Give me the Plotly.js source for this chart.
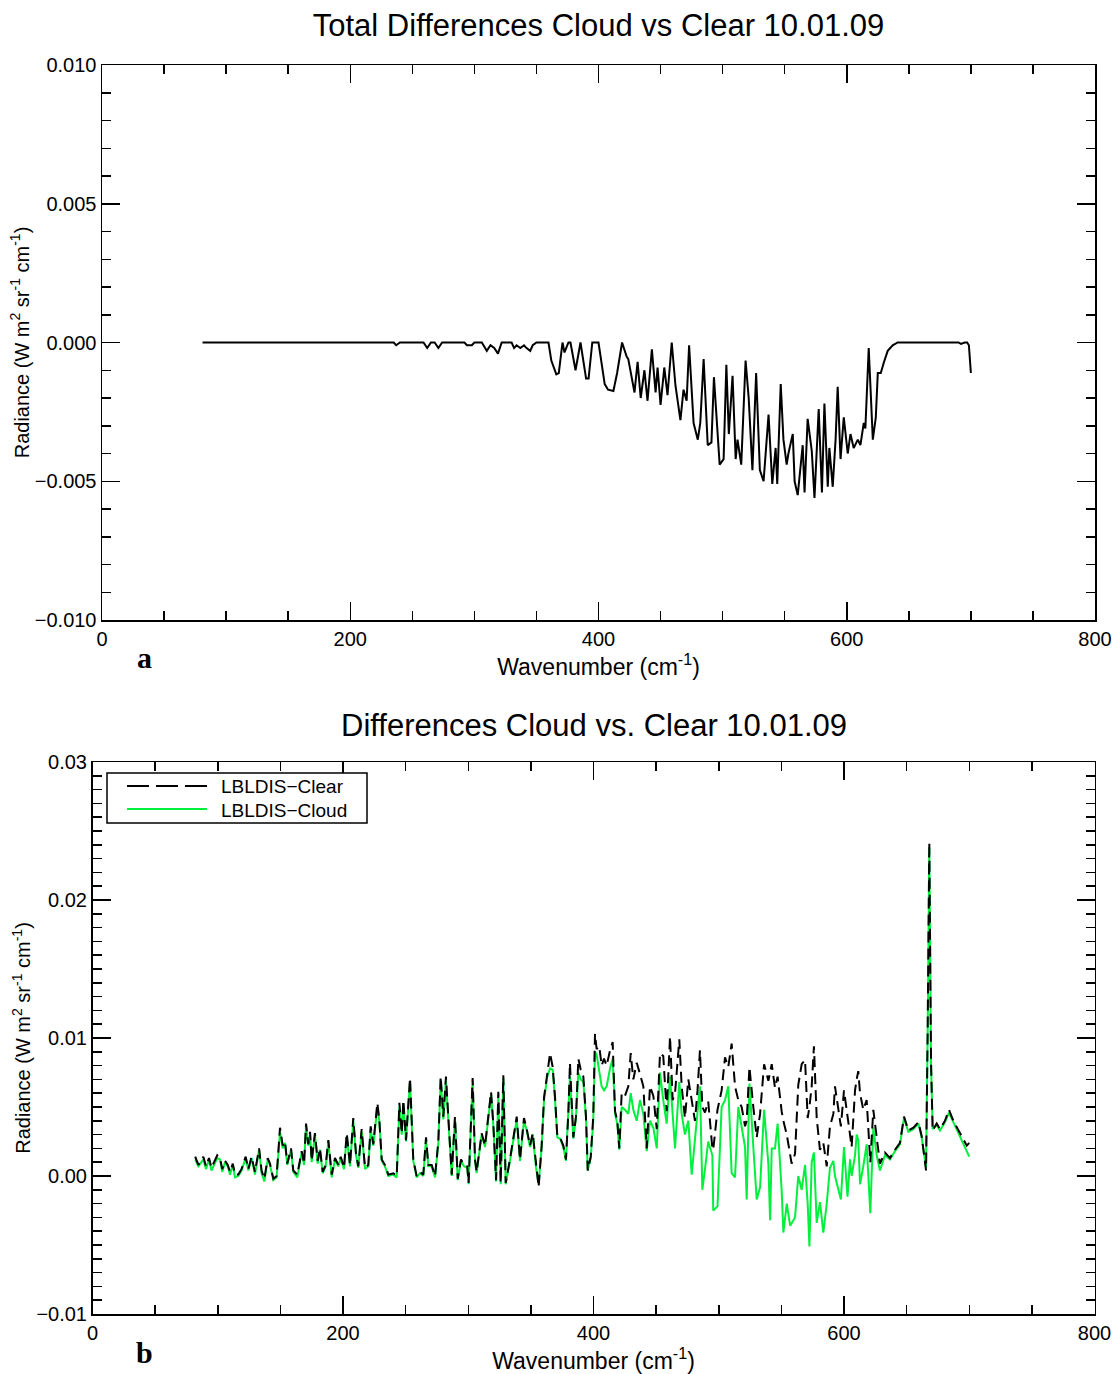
<!DOCTYPE html>
<html><head><meta charset="utf-8">
<script src="https://cdn.plot.ly/plotly-3.0.1.min.js"></script>
<style>body{margin:0;padding:0;background:#fff}#chart{width:1115px;height:1374px}</style>
</head><body><div id="chart"></div>
<script>
// ---- Panel a: total difference (cloud - clear) ----
const wnTop = [81, 235, 237, 240, 259, 262, 265, 268, 271, 274, 292, 294, 298, 300, 306, 310, 313, 316, 319, 322,
  330, 332, 334, 337, 340, 342, 345, 347, 350, 359.7, 362, 366, 368, 371, 372.6, 375.8, 377.4, 381.5, 385.5,
  390, 392, 395, 400, 405, 407.7, 412, 415, 419, 422.6, 424, 429, 431.5, 434, 437, 439.5, 443, 446, 447.6,
  450, 453, 455.6, 459, 462, 466, 468.5, 471, 473, 476.6, 480, 482, 484.7, 488, 491, 493, 497.6, 500.8, 503,
  505, 508, 510.5, 512, 515, 518.5, 521, 524, 527, 530, 533, 537, 540, 542.7, 544, 546.8, 549, 551.6, 553,
  556.5, 558, 560.5, 564.5, 566, 568.5, 571.8, 574, 577.4, 580, 582, 584.7, 586, 588.7, 591, 592.7, 595,
  597.6, 600.8, 603, 605.6, 608.9, 611, 613.7, 615, 617.7, 621, 623.4, 625, 627.4, 630, 633, 637, 641,
  690, 692, 695, 697, 698.4, 700];
const diffTop = [0, 0, -0.0001, 0, 0, -0.0002, 0, 0, -0.0002, 0, 0, -0.0001, -0.0001, 0, 0, -0.0003, -0.0001, -0.0002, -0.0004, 0,
  0, -0.0002, -0.0001, -0.0002, -0.0001, -0.0002, -0.0003, -0.0001, 0, 0, -0.00065, -0.00115, -0.0011, 0, -0.00036, 0, 0, -0.001, 0,
  -0.0013, -0.0013, 0, 0, -0.0015, -0.0017, -0.00175, -0.0011, 0, -0.0005, -0.0006, -0.0018, -0.0007, -0.002, -0.001, -0.0021, -0.00025, -0.0018, -0.0009,
  -0.00225, -0.0009, -0.0019, 0, -0.00155, -0.0028, -0.0017, -0.0021, -0.0001, -0.0029, -0.0035, -0.0029, -0.0006, -0.0037, -0.0036, -0.00125, -0.0044, -0.0042, -0.0008,
  -0.0033, -0.0012, -0.0042, -0.0035, -0.0044, -0.00065, -0.002, -0.0046, -0.0011, -0.0046, -0.005, -0.0026, -0.0051, -0.0038, -0.0051, -0.0015, -0.0035, -0.0044, -0.004,
  -0.0033, -0.005, -0.0055, -0.0037, -0.0054, -0.00275, -0.0039, -0.0056, -0.0024, -0.0054, -0.0022, -0.0052, -0.0038, -0.0052, -0.0035, -0.0016, -0.0042,
  -0.0027, -0.004, -0.0033, -0.0038, -0.0035, -0.0037, -0.0029, -0.0031, -0.0002, -0.0035, -0.0027, -0.0011, -0.0011, -0.0007, -0.0003, -0.0001, 0,
  0, -0.00005, 0, 0, -0.0001, -0.0011];

// ---- Panel b: clear and cloud radiances ----
const wnBot = [82, 84.5, 88.5, 90.6, 93, 95, 99.6, 101.8, 103.6, 105.8, 108, 109.8, 112, 113.8, 116.4, 119, 122.3, 124.4, 127, 129.7,
  133, 135, 137.2, 139.9, 141.7, 144.4, 147, 149.7, 151.9, 153.7, 155.5, 158.5, 160.3, 163.5, 167, 168.9, 170.5, 172.3, 173.7, 175,
  177.6, 179.8, 181.6, 183.8, 186.2, 188.3, 191, 193.6, 196.3, 198.2, 200.8, 203, 205.6, 208.2, 210.4, 212.2, 214.9, 217.6, 220.2, 222.1,
  224.2, 227.4, 229, 230.9, 233.5, 236.2, 240.2, 242.9, 245, 246.9, 248.2, 250.3, 253.5, 256.1, 258.8, 261.5, 264.1, 266.3, 268.1, 270.8,
  273.5, 276.1, 278, 280.1, 282.2, 284.1, 286.8, 289.4, 291.6, 294.2, 296.6, 299.2, 300.3, 303.5, 305.4, 306.7, 310.7, 313.4, 316, 318.2,
  320, 322.2, 324, 325.9, 328, 329.9, 333.3, 336, 338.7, 341.3, 344.5, 346.7, 349.3, 351.5, 354.1, 356.2, 358.6, 360.5, 363.1, 365.3,
  367.4, 369.3, 371.1, 373.3, 375.9, 378, 379.9, 381.2, 383.9, 386, 387.9, 389.8, 391.9, 394, 395.4, 397.8, 399.8, 401.2, 402.5, 404.6,
  406.5, 408.4, 410.5, 413.2, 415.3, 417.2, 419, 420.6, 422.5, 425.1, 427.8, 429.7, 431.8, 434.5, 437.1, 439.8, 442.5, 445.1, 447.8, 450.5,
  453.1, 455.7, 458.4, 461.1, 463.2, 465.1, 468.5, 470.4, 473, 475.7, 478.4, 481, 482.9, 485, 486.9, 489, 491.6, 494.9, 495.6, 499,
  502.3, 505, 507.6, 510.3, 513, 515.6, 518.3, 521, 522.3, 524.5, 527.6, 530.3, 533, 536.2, 539.6, 541, 542.3, 544.9, 547, 550.2,
  551.6, 554.3, 557, 558.2, 560.9, 563.5, 566.2, 568.9, 571, 572.4, 574.2, 576, 578.2, 580.8, 583.5, 586.2, 588.8, 591.5, 592.8, 595,
  597.5, 600, 602.8, 604.8, 606.1, 608.8, 610.1, 611.4, 612.8, 615.4, 618.1, 621, 623.4, 626.1, 628.7, 632.7, 636.7, 640.7, 644.7, 647.9,
  651.4, 655.4, 659.4, 662, 665.5, 666.8, 668.1, 669.5, 670.8, 674, 676.6, 680.6, 683.8, 687.3, 691.3, 695.3, 698, 700];
const clearBot = [0.0014, 0.0008, 0.0014, 0.0007, 0.0013, 0.0006, 0.0015, 0.0013, 0.0005, 0.0011, 0.0008, 0.0003, 0.0009, 0.0001, 0.0001, 0.0005, 0.0014, 0.0005, 0.0014, 0.0003,
  0.0020, 0.0004, -0.0002, 0.0013, 0.0009, -0.0002, 0.0000, 0.0035, 0.0022, 0.0025, 0.0009, 0.0020, 0.0004, 0.0001, 0.0018, 0.0009, 0.0038, 0.0023, 0.0032, 0.0011,
  0.0031, 0.0011, 0.0020, 0.0003, 0.0008, 0.0026, 0.0001, 0.0013, 0.0008, 0.0014, 0.0006, 0.0031, 0.0008, 0.0042, 0.0016, 0.0007, 0.0034, 0.0006, 0.0008, 0.0036,
  0.0023, 0.0053, 0.0041, 0.0012, 0.0008, 0.0001, 0.0002, 0.0000, 0.0053, 0.0031, 0.0055, 0.0026, 0.0071, 0.0012, 0.0000, 0.0003, 0.0001, 0.0028, 0.0008, 0.0008,
  0.0000, 0.0025, 0.0072, 0.0043, 0.0072, 0.0043, 0.0001, 0.0043, -0.0002, 0.0012, 0.0008, 0.0007, -0.0005, 0.0071, 0.0012, 0.0003, 0.0031, 0.0022, 0.0045, 0.0061,
  0.0038, -0.0003, 0.0061, -0.0005, 0.0073, -0.0005, 0.0012, 0.0026, 0.0043, 0.0012, 0.0042, 0.0034, 0.0022, 0.0031, 0.0007, -0.0008, 0.0022, 0.0057, 0.0074, 0.0089,
  0.0079, 0.0057, 0.0029, 0.0028, 0.0022, 0.0012, 0.0045, 0.0082, 0.0028, 0.0043, 0.0085, 0.0077, 0.0072, 0.0043, 0.0004, 0.0014, 0.0043, 0.0103, 0.0092, 0.0094,
  0.0080, 0.0085, 0.0080, 0.0091, 0.0097, 0.0047, 0.0040, 0.0020, 0.0060, 0.0058, 0.0065, 0.0089, 0.0070, 0.0082, 0.0074, 0.0065, 0.0020, 0.0065, 0.0058, 0.0034,
  0.0089, 0.0087, 0.0047, 0.0101, 0.0055, 0.0060, 0.0099, 0.0065, 0.0042, 0.0070, 0.0055, 0.0040, 0.0060, 0.0091, 0.0050, 0.0046, 0.0054, 0.0020, 0.0019, 0.0048,
  0.0062, 0.0086, 0.0079, 0.0096, 0.0065, 0.0055, 0.0050, 0.0036, 0.0040, 0.0079, 0.0050, 0.0028, 0.0045, 0.0081, 0.0069, 0.0075, 0.0081, 0.0064, 0.0072, 0.0047,
  0.0040, 0.0030, 0.0015, 0.0009, 0.0016, 0.0066, 0.0081, 0.0084, 0.0042, 0.0050, 0.0065, 0.0094, 0.0042, 0.0019, 0.0024, 0.0007, 0.0036, 0.0045, 0.0065, 0.0050,
  0.0036, 0.0062, 0.0045, 0.0030, 0.0021, 0.0062, 0.0070, 0.0076, 0.0060, 0.0048, 0.0055, 0.0010, 0.0048, 0.0030, 0.0009, 0.0017, 0.0013, 0.0019, 0.0024, 0.0043,
  0.0033, 0.0035, 0.0039, 0.0029, 0.0004, 0.0106, 0.0242, 0.0082, 0.0033, 0.0038, 0.0034, 0.0040, 0.0048, 0.0040, 0.0033, 0.0026, 0.0022, 0.0024];
const cloudBot = [0.0012, 0.0007, 0.0012, 0.0005, 0.0012, 0.0004, 0.0013, 0.0012, 0.0003, 0.0010, 0.0007, 0.0001, 0.0008, -0.0001, 0.0000, 0.0004, 0.0013, 0.0004, 0.0013, 0.0001,
  0.0019, 0.0002, -0.0004, 0.0012, 0.0008, -0.0003, -0.0001, 0.0032, 0.0020, 0.0024, 0.0008, 0.0019, 0.0003, -0.0001, 0.0017, 0.0008, 0.0036, 0.0022, 0.0030, 0.0010,
  0.0030, 0.0009, 0.0019, 0.0002, 0.0007, 0.0025, -0.0001, 0.0012, 0.0007, 0.0013, 0.0005, 0.0029, 0.0007, 0.0040, 0.0015, 0.0006, 0.0032, 0.0005, 0.0007, 0.0034,
  0.0022, 0.0050, 0.0040, 0.0011, 0.0007, 0.0000, 0.0001, -0.0001, 0.0050, 0.0030, 0.0052, 0.0025, 0.0068, 0.0011, -0.0001, 0.0002, 0.0000, 0.0027, 0.0007, 0.0007,
  -0.0001, 0.0024, 0.0070, 0.0041, 0.0069, 0.0041, 0.0000, 0.0041, -0.0003, 0.0011, 0.0007, 0.0006, -0.0006, 0.0069, 0.0011, 0.0002, 0.0030, 0.0021, 0.0043, 0.0059,
  0.0037, -0.0004, 0.0059, -0.0006, 0.0071, -0.0006, 0.0011, 0.0025, 0.0041, 0.0011, 0.0040, 0.0033, 0.0021, 0.0030, 0.0006, -0.0006, 0.0021, 0.0055, 0.0072, 0.0078,
  0.0077, 0.0055, 0.0028, 0.0027, 0.0021, 0.0011, 0.0044, 0.0072, 0.0027, 0.0042, 0.0075, 0.0070, 0.0068, 0.0042, 0.0004, 0.0013, 0.0040, 0.0090, 0.0088, 0.0075,
  0.0065, 0.0062, 0.0065, 0.0078, 0.0085, 0.0045, 0.0038, 0.0019, 0.0050, 0.0048, 0.0045, 0.0060, 0.0048, 0.0040, 0.0055, 0.0045, 0.0018, 0.0040, 0.0035, 0.0020,
  0.0075, 0.0055, 0.0038, 0.0072, 0.0040, 0.0020, 0.0068, 0.0045, 0.0030, 0.0040, 0.0001, 0.0030, 0.0045, 0.0065, -0.0010, 0.0005, 0.0025, 0.0015, -0.0025, -0.0022,
  0.0050, 0.0055, 0.0065, 0.0002, -0.0001, 0.0050, 0.0036, 0.0021, -0.0017, 0.0067, 0.0021, -0.0017, -0.0008, 0.0048, 0.0009, -0.0032, 0.0020, 0.0020, 0.0038, -0.0010,
  -0.0041, -0.0020, -0.0036, -0.0034, -0.0030, 0.0000, -0.0010, 0.0008, -0.0020, -0.0051, 0.0010, 0.0017, -0.0034, -0.0019, -0.0041, -0.0020, 0.0006, 0.0011, 0.0000, -0.0008,
  -0.0017, 0.0021, -0.0015, 0.0012, 0.0000, 0.0015, 0.0030, 0.0026, -0.0006, 0.0007, 0.0023, -0.0027, 0.0035, 0.0015, 0.0004, 0.0015, 0.0012, 0.0018, 0.0023, 0.0042,
  0.0032, 0.0034, 0.0038, 0.0028, 0.0006, 0.0104, 0.0238, 0.0080, 0.0034, 0.0037, 0.0033, 0.0039, 0.0046, 0.0039, 0.0031, 0.0024, 0.0018, 0.0014];

const xTicks = [0, 200, 400, 600, 800];
const legendNames = ['LBLDIS\u2212Clear', 'LBLDIS\u2212Cloud'];

const FONT = 'Liberation Sans, Arial, Helvetica, sans-serif';
const GREEN = 'rgb(0,240,60)';
const CLEAR_DASH = '11px,6px';

const traces = [
  {x: wnTop, y: diffTop, xaxis: 'x', yaxis: 'y', type: 'scatter', mode: 'lines',
   line: {color: 'black', width: 2}, showlegend: false, name: 'Total difference'},
  {x: wnBot, y: cloudBot, xaxis: 'x2', yaxis: 'y2', type: 'scatter', mode: 'lines',
   line: {color: GREEN, width: 2}, name: legendNames[1], showlegend: false},
  {x: wnBot, y: clearBot, xaxis: 'x2', yaxis: 'y2', type: 'scatter', mode: 'lines',
   line: {color: 'black', width: 2, dash: CLEAR_DASH}, name: legendNames[0], showlegend: false}
];

function xAxis(domain, anchor) {
  return {
    domain: domain, anchor: anchor, range: [0, 800], tickvals: xTicks, ticktext: xTicks.map(String),
    ticks: 'inside', ticklen: 18, tickwidth: 1.5, tickcolor: 'black', mirror: 'allticks',
    showline: true, linecolor: 'black', linewidth: 1.5, showgrid: false, zeroline: false,
    minor: {dtick: 50, tick0: 0, ticks: 'inside', ticklen: 9, tickwidth: 1.5, tickcolor: 'black', showgrid: false},
    tickfont: {family: FONT, size: 20, color: 'black'},
    title: {text: 'Wavenumber (cm<sup>-1</sup>)', font: {family: FONT, size: 23, color: 'black'}, standoff: 10}
  };
}
function yAxis(domain, anchor, range, dtick, minorDt, fmt, standoff) {
  return {
    domain: domain, anchor: anchor, range: range, dtick: dtick, tick0: 0, tickformat: fmt,
    ticks: 'inside', ticklen: 18, tickwidth: 1.5, tickcolor: 'black', mirror: 'allticks',
    showline: true, linecolor: 'black', linewidth: 1.5, showgrid: false, zeroline: false,
    minor: {dtick: minorDt, tick0: 0, ticks: 'inside', ticklen: 9, tickwidth: 1.5, tickcolor: 'black', showgrid: false},
    tickfont: {family: FONT, size: 20, color: 'black'},
    title: {text: 'Radiance (W m<sup>2</sup> sr<sup>-1</sup> cm<sup>-1</sup>)', font: {family: FONT, size: 20, color: 'black'}, standoff: standoff}
  };
}

// legend box (panel b), placed in paper coordinates
const PX = v => v / 1115, PY = v => 1 - v / 1374;
const shapes = [
  {type: 'rect', xref: 'paper', yref: 'paper', x0: PX(107), x1: PX(367), y0: PY(823), y1: PY(773),
   line: {color: 'black', width: 1.5}, fillcolor: 'white', layer: 'above'},
  {type: 'line', xref: 'paper', yref: 'paper', x0: PX(127), x1: PX(207), y0: PY(786), y1: PY(786),
   line: {color: 'black', width: 2, dash: '22px,7px'}, layer: 'above'},
  {type: 'line', xref: 'paper', yref: 'paper', x0: PX(127), x1: PX(207), y0: PY(809), y1: PY(809),
   line: {color: GREEN, width: 2}, layer: 'above'}
];

const layout = {
  width: 1115, height: 1374,
  margin: {l: 0, r: 0, t: 0, b: 0},
  paper_bgcolor: 'white', plot_bgcolor: 'white',
  font: {family: FONT, color: 'black'},
  showlegend: false,
  title: {text: 'Total Differences Cloud vs Clear 10.01.09', x: 0.5368, xanchor: 'center',
          y: 1 - 25 / 1374, yanchor: 'middle', font: {family: FONT, size: 31, color: 'black'}},
  xaxis: xAxis([PX(102), PX(1095)], 'y'),
  yaxis: yAxis([PY(620), PY(65)], 'x', [-0.01, 0.01], 0.005, 0.001, '.3f', 0),
  xaxis2: xAxis([PX(92.5), PX(1094.5)], 'y2'),
  yaxis2: yAxis([PY(1314), PY(762)], 'x2', [-0.01, 0.03], 0.01, 0.001, '.2f', 0),
  shapes: shapes,
  annotations: [
    {text: 'Differences Cloud vs. Clear 10.01.09', xref: 'paper', yref: 'paper', x: PX(593.5), y: PY(725),
     xanchor: 'center', yanchor: 'middle', showarrow: false, font: {family: FONT, size: 31, color: 'black'}},
    {text: legendNames[0], xref: 'paper', yref: 'paper', x: PX(219), y: PY(786), xanchor: 'left', yanchor: 'middle',
     showarrow: false, font: {family: FONT, size: 19, color: 'black'}},
    {text: legendNames[1], xref: 'paper', yref: 'paper', x: PX(219), y: PY(810), xanchor: 'left', yanchor: 'middle',
     showarrow: false, font: {family: FONT, size: 19, color: 'black'}},
    {text: '<b>a</b>', xref: 'paper', yref: 'paper', x: PX(145), y: PY(657), xanchor: 'center', yanchor: 'middle',
     showarrow: false, font: {family: 'Liberation Serif, Times New Roman, serif', size: 30, color: 'black'}},
    {text: '<b>b</b>', xref: 'paper', yref: 'paper', x: PX(145), y: PY(1352), xanchor: 'center', yanchor: 'middle',
     showarrow: false, font: {family: 'Liberation Serif, Times New Roman, serif', size: 30, color: 'black'}}
  ]
};

Plotly.newPlot('chart', traces, layout, {displayModeBar: false, staticPlot: true});
</script>
</body></html>
